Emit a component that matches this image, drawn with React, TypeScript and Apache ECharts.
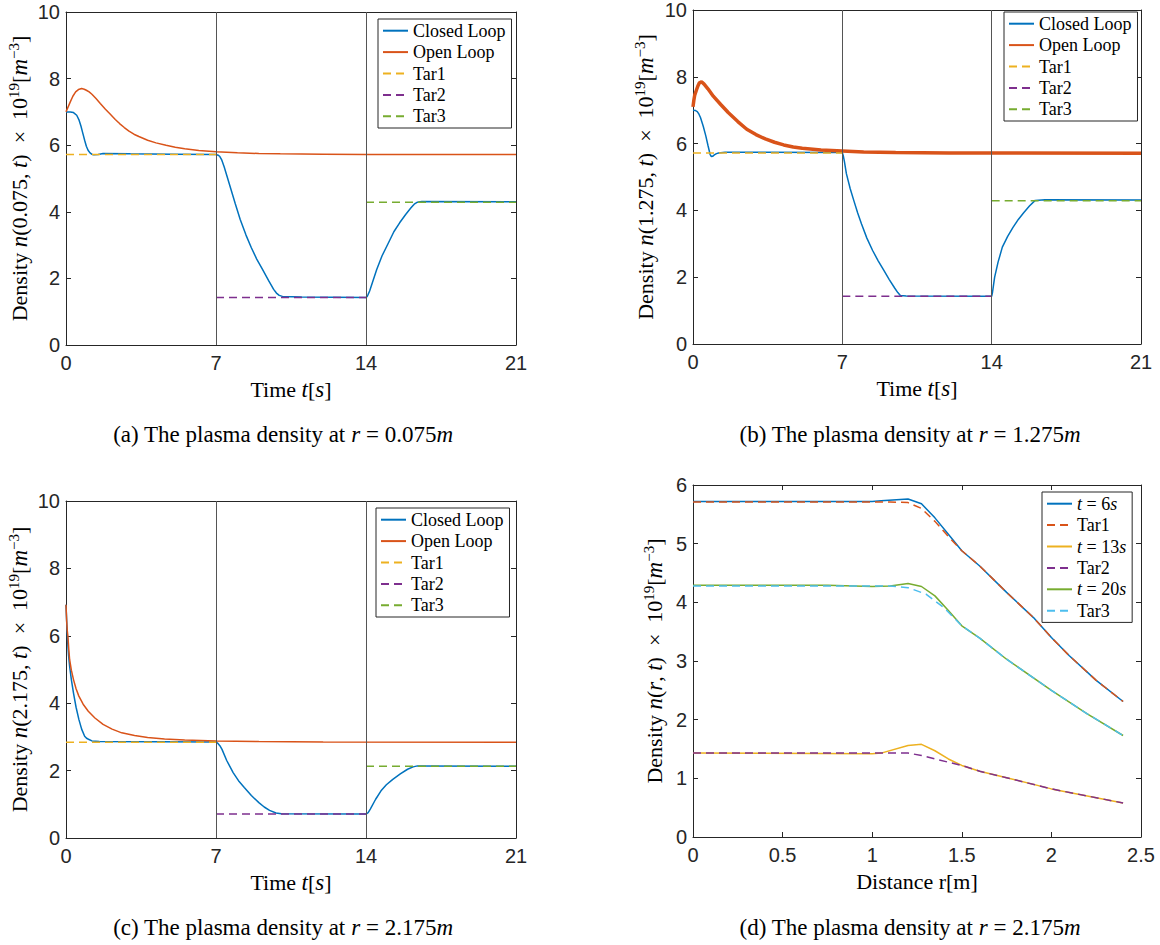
import React, { useEffect, useRef } from "react";
import * as echarts from "echarts";

// ---------- data ----------
const timeAxis = { min: 0, max: 21, interval: 7 };
const densAxis = { min: 0, max: 10, interval: 2 };
const distAxis = { min: 0, max: 2.5, interval: 0.5 };
const profAxis = { min: 0, max: 6, interval: 1 };
const switchTimes = [7, 14];

// panel (a) r = 0.075
const closedA = [[0,7.0],[0.2,7.0],[0.35,6.98],[0.5,6.9],[0.6,6.77],[0.7,6.57],[0.78,6.37],[0.87,6.15],[0.95,5.97],[1.03,5.85],[1.12,5.77],[1.2,5.73],[1.3,5.71],[1.5,5.72],[1.73,5.75],[3,5.74],[5,5.73],[7.0,5.72],[7.1,5.7],[7.18,5.66],[7.26,5.57],[7.38,5.35],[7.5,5.1],[7.7,4.67],[7.9,4.24],[8.13,3.77],[8.4,3.3],[8.65,2.92],[8.9,2.58],[9.17,2.27],[9.45,1.94],[9.69,1.67],[9.82,1.56],[9.95,1.49],[10.1,1.46],[11,1.44],[14,1.43],[14.05,1.45],[14.1,1.52],[14.17,1.62],[14.3,1.88],[14.5,2.27],[14.75,2.68],[15.05,3.07],[15.3,3.4],[15.57,3.67],[15.85,3.92],[16.1,4.12],[16.25,4.23],[16.4,4.29],[16.6,4.31],[21,4.3]];
const openA = [[0,7.0],[0.1,7.15],[0.2,7.3],[0.32,7.47],[0.45,7.6],[0.58,7.67],[0.73,7.7],[0.85,7.68],[0.95,7.65],[1.08,7.6],[1.21,7.53],[1.4,7.4],[1.6,7.25],[1.84,7.08],[2.08,6.92],[2.3,6.77],[2.5,6.65],[2.72,6.53],[2.94,6.42],[3.17,6.33],[3.4,6.26],[3.81,6.15],[4.2,6.07],[4.67,6.0],[5.1,5.94],[5.54,5.89],[6.2,5.84],[7,5.8],[8,5.77],[9,5.75],[10,5.74],[12,5.73],[14,5.72],[21,5.72]];
const tar1A = [[0,5.72],[7,5.72]];
const tar2A = [[7,1.43],[14,1.43]];
const tar3A = [[14,4.29],[21,4.29]];

// panel (b) r = 1.275
const closedB = [[0,7.0],[0.12,6.99],[0.2,6.96],[0.28,6.88],[0.35,6.78],[0.48,6.52],[0.6,6.23],[0.7,5.95],[0.8,5.68],[0.86,5.61],[0.92,5.62],[1.0,5.66],[1.1,5.7],[1.2,5.72],[1.5,5.74],[3,5.74],[7,5.73],[7.05,5.62],[7.1,5.45],[7.19,5.1],[7.37,4.65],[7.55,4.27],[7.72,3.92],[7.9,3.59],[8.15,3.17],[8.42,2.8],[8.68,2.49],[8.94,2.21],[9.2,1.93],[9.46,1.67],[9.6,1.54],[9.72,1.45],[10,1.44],[14,1.43],[14.04,1.55],[14.09,1.78],[14.14,2.0],[14.3,2.45],[14.5,2.9],[14.75,3.22],[15.0,3.49],[15.25,3.73],[15.5,3.93],[15.77,4.13],[16.04,4.3],[16.5,4.32],[21,4.31]];
const openB = [[0,7.1],[0.04,7.3],[0.08,7.45],[0.17,7.62],[0.24,7.74],[0.3,7.82],[0.4,7.85],[0.52,7.78],[0.7,7.64],[0.95,7.42],[1.3,7.17],[1.65,6.93],[2.1,6.66],[2.52,6.43],[2.95,6.27],[3.39,6.14],[3.82,6.04],[4.25,5.96],[4.7,5.9],[5.12,5.86],[6,5.81],[7,5.78],[8,5.75],[9.5,5.73],[12,5.72],[21,5.71]];
const tar1B = [[0,5.72],[7,5.72]];
const tar2B = [[7,1.43],[14,1.43]];
const tar3B = [[14,4.29],[21,4.29]];

// panel (c) r = 2.175
const closedC = [[0,6.92],[0.04,6.3],[0.08,5.8],[0.12,5.42],[0.17,5.09],[0.25,4.7],[0.35,4.3],[0.47,3.88],[0.6,3.52],[0.73,3.23],[0.87,3.02],[0.96,2.96],[1.05,2.93],[1.21,2.88],[1.56,2.86],[7,2.85],[7.1,2.8],[7.18,2.74],[7.28,2.63],[7.5,2.3],[7.8,1.94],[8.05,1.7],[8.32,1.5],[8.65,1.26],[9.0,1.05],[9.25,0.92],[9.5,0.82],[9.8,0.74],[10.05,0.72],[14,0.71],[14.1,0.75],[14.2,0.86],[14.45,1.15],[14.7,1.4],[14.95,1.58],[15.25,1.74],[15.6,1.9],[15.94,2.04],[16.2,2.11],[16.4,2.14],[21,2.13]];
const openC = [[0,6.92],[0.03,6.45],[0.06,6.15],[0.09,5.98],[0.13,5.6],[0.17,5.29],[0.25,4.98],[0.35,4.7],[0.47,4.43],[0.6,4.21],[0.8,3.97],[1.04,3.76],[1.35,3.56],[1.73,3.37],[2.15,3.23],[2.6,3.12],[3.2,3.04],[3.81,2.98],[4.6,2.94],[5.54,2.91],[7,2.88],[9,2.86],[12,2.85],[21,2.84]];
const tar1C = [[0,2.84],[7,2.84]];
const tar2C = [[7,0.71],[14,0.71]];
const tar3C = [[14,2.13],[21,2.13]];

// panel (d) radial profiles
const prof6s = [[0,5.72],[0.5,5.72],[1.0,5.72],[1.05,5.73],[1.2,5.76],[1.275,5.68],[1.35,5.44],[1.425,5.16],[1.5,4.88],[1.6,4.62],[1.75,4.17],[1.9,3.74],[2.0,3.4],[2.1,3.09],[2.25,2.67],[2.4,2.31]];
const profTar1 = [[0,5.71],[1.1,5.71],[1.2,5.7],[1.275,5.6],[1.35,5.38],[1.425,5.12],[1.5,4.88],[1.6,4.62],[1.75,4.17],[1.9,3.74],[2.0,3.4],[2.1,3.09],[2.25,2.67],[2.4,2.31]];
const prof13s = [[0,1.43],[1.0,1.42],[1.05,1.43],[1.2,1.56],[1.275,1.58],[1.35,1.47],[1.425,1.33],[1.5,1.22],[1.6,1.12],[1.75,1.01],[2.0,0.82],[2.2,0.7],[2.4,0.58]];
const profTar2 = [[0,1.43],[1.2,1.43],[1.275,1.39],[1.35,1.33],[1.5,1.22],[1.6,1.12],[1.75,1.01],[2.0,0.82],[2.2,0.7],[2.4,0.58]];
const prof20s = [[0,4.29],[0.75,4.29],[1.0,4.27],[1.1,4.28],[1.2,4.32],[1.275,4.27],[1.35,4.11],[1.425,3.86],[1.5,3.6],[1.6,3.39],[1.75,3.03],[2.0,2.5],[2.2,2.1],[2.4,1.73]];
const profTar3 = [[0,4.28],[1.1,4.28],[1.2,4.25],[1.3,4.14],[1.4,3.91],[1.5,3.6],[1.6,3.39],[1.75,3.03],[2.0,2.5],[2.2,2.1],[2.4,1.73]];

const captions = [
  "(a) The plasma density at {i|r} = 0.075{i|m}",
  "(b) The plasma density at {i|r} = 1.275{i|m}",
  "(c) The plasma density at {i|r} = 2.175{i|m}",
  "(d) The plasma density at {i|r} = 2.175{i|m}",
];

// ---------- styles ----------
const SANS = "'Liberation Sans', Arial, Helvetica, sans-serif";
const SERIF = "'Liberation Serif', 'Times New Roman', serif";
const AX = "#262626";
const BLUE = "#0072BD";
const RED = "#D95319";
const YELLOW = "#EDB120";
const PURPLE = "#7E2F8E";
const GREEN = "#77AC30";
const CYAN = "#4DBEEE";

const grids = [
  { left: 66, top: 12, width: 450, height: 333 },
  { left: 693, top: 5, width: 448, height: 339 },
  { left: 66, top: 501, width: 450, height: 337 },
  { left: 693, top: 485, width: 448, height: 352 },
];

const nameRich = {
  r: { fontFamily: SERIF, fontSize: 22, color: "#000", lineHeight: 26 },
  i: { fontFamily: SERIF, fontSize: 23, fontStyle: "italic", color: "#000", lineHeight: 26 },
  s: { fontFamily: SERIF, fontSize: 15, color: "#000", verticalAlign: "top", lineHeight: 15 },
};

function baseAxis(range: any) {
  return {
    type: "value",
    min: range.min,
    max: range.max,
    interval: range.interval,
    axisLine: { show: true, onZero: false, lineStyle: { color: AX, width: 1 } },
    axisTick: { show: true, inside: true, length: 5, lineStyle: { color: AX, width: 1 } },
    splitLine: { show: false },
  };
}

function line(name: string, data: any, gi: number, color: string, width: number, dashed: boolean, extra: any = {}) {
  return {
    type: "line",
    name,
    data,
    xAxisIndex: gi * 2,
    yAxisIndex: gi * 2,
    symbol: "none",
    showSymbol: false,
    smooth: false,
    lineStyle: { color, width, type: dashed ? [8, 5] : "solid" },
    itemStyle: { color },
    animation: false,
    ...extra,
  };
}

const vlines = {
  silent: true,
  symbol: ["none", "none"],
  label: { show: false },
  lineStyle: { color: "#555", width: 1, type: "solid" },
  data: switchTimes.map((t) => ({ xAxis: t })),
};

const legendLabels: Record<string, string> = {};
["a", "b", "c"].forEach((p) => {
  legendLabels[p + ":cl"] = "{r|Closed Loop}";
  legendLabels[p + ":ol"] = "{r|Open Loop}";
  legendLabels[p + ":t1"] = "{r|Tar1}";
  legendLabels[p + ":t2"] = "{r|Tar2}";
  legendLabels[p + ":t3"] = "{r|Tar3}";
});
legendLabels["d:6"] = "{i|t}{r| = 6}{i|s}";
legendLabels["d:t1"] = "{r|Tar1}";
legendLabels["d:13"] = "{i|t}{r| = 13}{i|s}";
legendLabels["d:t2"] = "{r|Tar2}";
legendLabels["d:20"] = "{i|t}{r| = 20}{i|s}";
legendLabels["d:t3"] = "{r|Tar3}";

const legendRich = {
  r: { fontFamily: SERIF, fontSize: 18, color: "#000", lineHeight: 21.4 },
  i: { fontFamily: SERIF, fontSize: 18, fontStyle: "italic", color: "#000", lineHeight: 21.4 },
};

function legend(data: string[], left: number, top: number) {
  return {
    show: true,
    orient: "vertical",
    left,
    top,
    data,
    padding: [1, 6, 1, 4],
    itemGap: 0,
    itemWidth: 25,
    itemHeight: 10,
    borderColor: AX,
    borderWidth: 1,
    borderRadius: 0,
    backgroundColor: "#fff",
    selectedMode: false,
    itemStyle: { opacity: 0 },
    formatter: (n: string) => legendLabels[n] || n,
    textStyle: { fontFamily: SERIF, fontSize: 18, color: "#000", lineHeight: 21.4, rich: legendRich },
  };
}

function buildOption() {
  const xAxes: any[] = [];
  const yAxes: any[] = [];
  const xNames = ["{r|Time }{i|t}{r|[}{i|s}{r|]}", "{r|Time }{i|t}{r|[}{i|s}{r|]}", "{r|Time }{i|t}{r|[}{i|s}{r|]}", "{r|Distance r[m]}"];
  const yNames = [
    "{r|Density }{i|n}{r|(0.075, }{i|t}{r|)  ×  10}{s|19}{r|[}{i|m}{s|−3}{r|]}",
    "{r|Density }{i|n}{r|(1.275, }{i|t}{r|)  ×  10}{s|19}{r|[}{i|m}{s|−3}{r|]}",
    "{r|Density }{i|n}{r|(2.175, }{i|t}{r|)  ×  10}{s|19}{r|[}{i|m}{s|−3}{r|]}",
    "{r|Density }{i|n}{r|(}{i|r}{r|, }{i|t}{r|)  ×  10}{s|19}{r|[}{i|m}{s|−3}{r|]}",
  ];
  const yGaps = [34, 35, 34, 26];
  grids.forEach((g, gi) => {
    const xr = gi === 3 ? distAxis : timeAxis;
    const yr = gi === 3 ? profAxis : densAxis;
    xAxes.push({
      ...baseAxis(xr),
      gridIndex: gi,
      position: "bottom",
      name: xNames[gi],
      nameLocation: "middle",
      nameGap: 31,
      nameTextStyle: { rich: nameRich },
      axisLabel: { show: true, margin: 8, fontFamily: SANS, fontSize: 20, color: AX, showMaxLabel: true, showMinLabel: true },
    });
    xAxes.push({ ...baseAxis(xr), gridIndex: gi, position: "top", axisLabel: { show: false } });
    yAxes.push({
      ...baseAxis(yr),
      gridIndex: gi,
      position: "left",
      name: yNames[gi],
      nameLocation: "middle",
      nameGap: yGaps[gi],
      nameTextStyle: { rich: nameRich },
      axisLabel: { show: true, margin: 6, fontFamily: SANS, fontSize: 20, color: AX, showMaxLabel: true, showMinLabel: true },
    });
    yAxes.push({ ...baseAxis(yr), gridIndex: gi, position: "right", axisLabel: { show: false } });
  });

  const series: any[] = [
    line("a:cl", closedA, 0, BLUE, 1.5, false, { markLine: vlines }),
    line("a:ol", openA, 0, RED, 1.5, false),
    line("a:t1", tar1A, 0, YELLOW, 1.5, true),
    line("a:t2", tar2A, 0, PURPLE, 1.5, true),
    line("a:t3", tar3A, 0, GREEN, 1.5, true),

    line("b:cl", closedB, 1, BLUE, 1.5, false, { markLine: vlines }),
    line("b:ol", openB, 1, RED, 3.5, false),
    line("b:t1", tar1B, 1, YELLOW, 1.5, true),
    line("b:t2", tar2B, 1, PURPLE, 1.5, true),
    line("b:t3", tar3B, 1, GREEN, 1.5, true),

    line("c:cl", closedC, 2, BLUE, 1.5, false, { markLine: vlines }),
    line("c:ol", openC, 2, RED, 1.5, false),
    line("c:t1", tar1C, 2, YELLOW, 1.5, true),
    line("c:t2", tar2C, 2, PURPLE, 1.5, true),
    line("c:t3", tar3C, 2, GREEN, 1.5, true),

    line("d:6", prof6s, 3, BLUE, 1.5, false),
    line("d:t1", profTar1, 3, RED, 1.5, true),
    line("d:13", prof13s, 3, YELLOW, 1.5, false),
    line("d:t2", profTar2, 3, PURPLE, 1.5, true),
    line("d:20", prof20s, 3, GREEN, 1.5, false),
    line("d:t3", profTar3, 3, CYAN, 1.5, true),
  ];

  const capPos = [
    [283, 434],
    [910, 434],
    [283, 927],
    [910, 927],
  ];
  const graphic = captions.map((c, i) => ({
    type: "text",
    x: capPos[i][0],
    y: capPos[i][1],
    silent: true,
    style: {
      text: c,
      align: "center",
      verticalAlign: "middle",
      fill: "#000",
      font: `23px ${SERIF}`,
      rich: {
        i: { fontFamily: SERIF, fontSize: 23, fontStyle: "italic", fill: "#000" },
      },
    },
  }));

  return {
    animation: false,
    backgroundColor: "#fff",
    grid: grids.map((g) => ({ ...g, containLabel: false })),
    xAxis: xAxes,
    yAxis: yAxes,
    legend: [
      legend(["a:cl", "a:ol", "a:t1", "a:t2", "a:t3"], 378, 19),
      legend(["b:cl", "b:ol", "b:t1", "b:t2", "b:t3"], 1004, 12),
      legend(["c:cl", "c:ol", "c:t1", "c:t2", "c:t3"], 376, 508),
      legend(["d:6", "d:t1", "d:13", "d:t2", "d:20", "d:t3"], 1042, 492),
    ],
    series,
    graphic,
  };
}

export default function App() {
  const ref = useRef<HTMLDivElement>(null);
  useEffect(() => {
    if (!ref.current) return;
    const chart = echarts.init(ref.current, undefined, { renderer: "svg" });
    chart.setOption(buildOption() as any);
    return () => chart.dispose();
  }, []);
  return (
    <div
      ref={ref}
      style={{ position: "absolute", left: 0, top: 0, width: 1160, height: 945, background: "#fff" }}
    />
  );
}
